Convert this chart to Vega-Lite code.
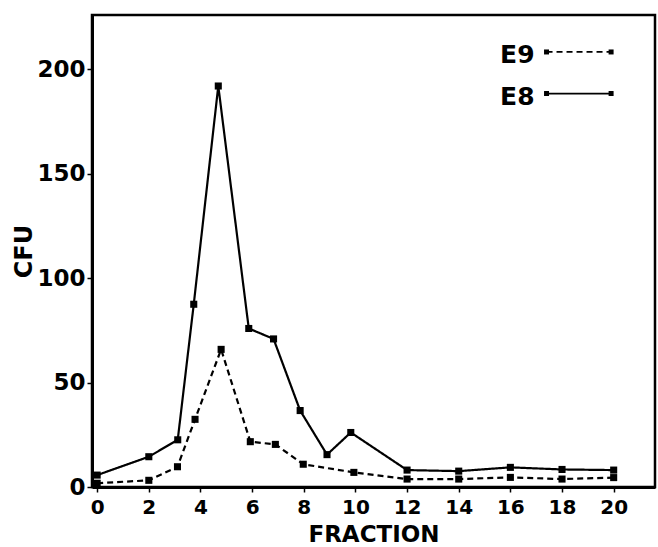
{
  "$schema": "https://vega.github.io/schema/vega-lite/v6.json",
  "width": 563,
  "height": 472,
  "autosize": "none",
  "padding": {"left": 92, "top": 15, "right": 3, "bottom": 60},
  "background": "white",
  "config": {
    "view": {"stroke": "black", "strokeWidth": 2.5},
    "font": "DejaVu Sans",
    "axis": {
      "domainColor": "black",
      "domainWidth": 3,
      "tickColor": "black",
      "tickWidth": 1.5,
      "tickSize": 5,
      "grid": false,
      "labelFont": "DejaVu Sans",
      "labelFontWeight": "bold",
      "labelColor": "black",
      "titleFont": "DejaVu Sans",
      "titleFontWeight": "bold",
      "titleColor": "black"
    }
  },
  "datasets": {
    "curve": [
      {"series": "E8", "fraction": 0, "cfu": 5.7},
      {"series": "E8", "fraction": 2, "cfu": 14.5},
      {"series": "E8", "fraction": 3.12, "cfu": 22.6},
      {"series": "E8", "fraction": 3.74, "cfu": 87.5},
      {"series": "E8", "fraction": 4.69, "cfu": 192},
      {"series": "E8", "fraction": 5.87, "cfu": 75.9},
      {"series": "E8", "fraction": 6.83, "cfu": 70.9},
      {"series": "E8", "fraction": 7.86, "cfu": 36.6},
      {"series": "E8", "fraction": 8.9, "cfu": 15.5},
      {"series": "E8", "fraction": 9.82, "cfu": 26.1},
      {"series": "E8", "fraction": 12, "cfu": 8.1},
      {"series": "E8", "fraction": 14, "cfu": 7.6},
      {"series": "E8", "fraction": 16, "cfu": 9.4},
      {"series": "E8", "fraction": 18, "cfu": 8.4},
      {"series": "E8", "fraction": 20, "cfu": 8.1},
      {"series": "E9", "fraction": 0, "cfu": 1.8},
      {"series": "E9", "fraction": 2, "cfu": 3.2},
      {"series": "E9", "fraction": 3.11, "cfu": 9.7},
      {"series": "E9", "fraction": 3.79, "cfu": 32.4},
      {"series": "E9", "fraction": 4.8, "cfu": 65.9},
      {"series": "E9", "fraction": 5.93, "cfu": 21.7},
      {"series": "E9", "fraction": 6.9, "cfu": 20.4},
      {"series": "E9", "fraction": 7.98, "cfu": 10.9},
      {"series": "E9", "fraction": 9.94, "cfu": 7.0},
      {"series": "E9", "fraction": 12, "cfu": 3.8},
      {"series": "E9", "fraction": 14, "cfu": 3.8},
      {"series": "E9", "fraction": 16, "cfu": 4.6},
      {"series": "E9", "fraction": 18, "cfu": 3.8},
      {"series": "E9", "fraction": 20, "cfu": 4.5}
    ],
    "key": [
      {"series": "E9", "fraction": 17.4, "cfu": 208.3},
      {"series": "E9", "fraction": 19.9, "cfu": 208.3},
      {"series": "E8", "fraction": 17.4, "cfu": 188.4},
      {"series": "E8", "fraction": 19.9, "cfu": 188.4}
    ]
  },
  "encoding": {
    "x": {
      "field": "fraction",
      "type": "quantitative",
      "scale": {"domain": [-0.2, 21.6], "nice": false, "zero": false},
      "axis": {
        "title": "FRACTION",
        "values": [0, 2, 4, 6, 8, 10, 12, 14, 16, 18, 20],
        "labelFontSize": 20,
        "labelPadding": 5,
        "titleFontSize": 23,
        "titlePadding": 6
      }
    },
    "y": {
      "field": "cfu",
      "type": "quantitative",
      "scale": {"domain": [0, 226], "nice": false},
      "axis": {
        "title": "CFU",
        "values": [0, 50, 100, 150, 200],
        "labelFontSize": 23,
        "labelPadding": 2,
        "titleFontSize": 24,
        "titlePadding": 0
      }
    }
  },
  "layer": [
    {
      "data": {"name": "curve"},
      "mark": {"type": "line", "color": "black", "strokeWidth": 2.2},
      "encoding": {
        "detail": {"field": "series"},
        "strokeDash": {
          "field": "series",
          "type": "nominal",
          "scale": {"domain": ["E8", "E9"], "range": [[1, 0], [6, 4]]},
          "legend": null
        }
      }
    },
    {
      "data": {"name": "curve"},
      "mark": {"type": "point", "shape": "square", "filled": true, "color": "black", "opacity": 1, "size": 50}
    },
    {
      "data": {"name": "key"},
      "mark": {"type": "line", "color": "black", "strokeWidth": 1.8},
      "encoding": {
        "detail": {"field": "series"},
        "strokeDash": {
          "field": "series",
          "type": "nominal",
          "scale": {"domain": ["E8", "E9"], "range": [[1, 0], [6, 4]]},
          "legend": null
        }
      }
    },
    {
      "data": {"name": "key"},
      "mark": {"type": "point", "shape": "square", "filled": true, "color": "black", "opacity": 1, "size": 25}
    },
    {
      "data": {"name": "key"},
      "transform": [{"filter": "datum.fraction < 18"}],
      "mark": {"type": "text", "align": "right", "baseline": "middle", "dx": -12, "dy": 3, "font": "DejaVu Sans", "fontWeight": "bold", "fontSize": 25, "color": "black"},
      "encoding": {"text": {"field": "series"}}
    }
  ]
}
